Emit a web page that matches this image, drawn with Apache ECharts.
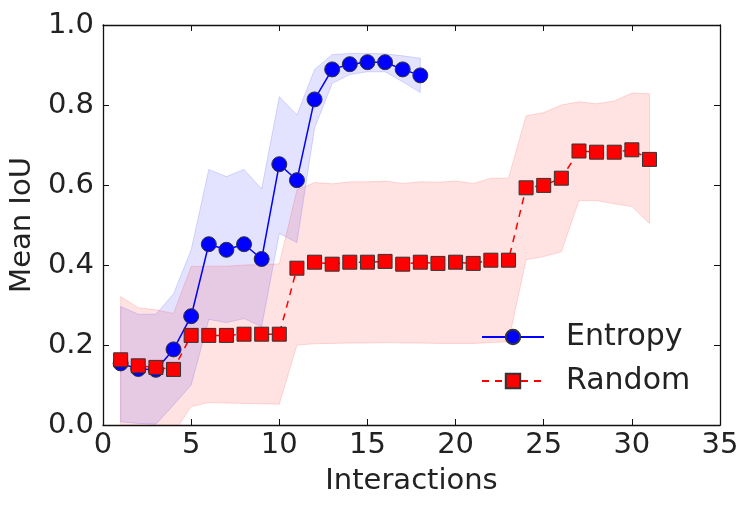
<!DOCTYPE html>
<html><head><meta charset="utf-8">
<script src="https://cdn.jsdelivr.net/npm/echarts@6/dist/echarts.min.js"></script>
<style>html,body{margin:0;padding:0;background:#fff}#c{width:749px;height:505px}</style>
</head><body><div id="c"></div>
<script>
const xEntropy = [1,2,3,4,5,6,7,8,9,10,11,12,13,14,15,16,17,18];
const entropyMean  = [0.154,0.140,0.138,0.189,0.272,0.452,0.438,0.452,0.415,0.652,0.612,0.814,0.889,0.902,0.907,0.907,0.889,0.874];
const entropyUpper = [0.296,0.277,0.277,0.328,0.438,0.639,0.621,0.639,0.590,0.821,0.775,0.889,0.926,0.929,0.929,0.928,0.923,0.917];
const entropyLower = [0.008,0.004,0.002,0.050,0.100,0.264,0.256,0.266,0.246,0.479,0.456,0.742,0.854,0.876,0.883,0.883,0.858,0.831];

const xRandom = [1,2,3,4,5,6,7,8,9,10,11,12,13,14,15,16,17,18,19,20,21,22,23,24,25,26,27,28,29,30,31];
const randomMean  = [0.163,0.148,0.144,0.139,0.224,0.224,0.224,0.227,0.227,0.227,0.392,0.407,0.402,0.407,0.407,0.409,0.402,0.407,0.404,0.407,0.404,0.412,0.412,0.593,0.599,0.617,0.685,0.682,0.682,0.688,0.664];
const randomUpper = [0.321,0.293,0.288,0.279,0.396,0.397,0.397,0.400,0.401,0.403,0.588,0.606,0.603,0.608,0.608,0.610,0.604,0.608,0.607,0.610,0.604,0.617,0.617,0.773,0.781,0.800,0.808,0.803,0.810,0.830,0.828];
const randomLower = [-0.17,-0.12,-0.07,-0.02,0.046,0.056,0.055,0.054,0.053,0.052,0.200,0.203,0.204,0.205,0.205,0.206,0.205,0.205,0.204,0.204,0.204,0.206,0.208,0.413,0.421,0.433,0.561,0.561,0.553,0.546,0.504];

const xTicks = {min: 0, max: 35, interval: 5};
const yTicks = {min: 0, max: 1, interval: 0.2};

const pair = (xs, ys) => xs.map((x, i) => [x, ys[i]]);

const FONT = 'DejaVu Sans';
const TXT = '#222';
const axisLine = {show: true, onZero: false, lineStyle: {color: '#111', width: 1.3}};
const axisTick = {show: true, inside: true, length: 6, lineStyle: {color: '#111', width: 1}};

function bandSeries(name, xs, lo, hi, fill, edge) {
  return {
    name: name, type: 'custom', silent: true, z: 1, clip: true,
    data: [[xs[0], lo[0]]],
    encode: {x: 0, y: 1},
    renderItem: function (params, api) {
      const pts = [];
      for (let i = 0; i < xs.length; i++) pts.push(api.coord([xs[i], hi[i]]));
      for (let i = xs.length - 1; i >= 0; i--) pts.push(api.coord([xs[i], lo[i]]));
      const cs = params.coordSys;
      return {
        type: 'polygon',
        shape: {points: pts},
        style: {fill: fill, stroke: edge, lineWidth: 1},
        clipPath: {type: 'rect', shape: {x: cs.x, y: cs.y, width: cs.width, height: cs.height}}
      };
    }
  };
}

const chart = echarts.init(document.getElementById('c'), null, {renderer: 'canvas'});
chart.setOption({
  animation: false,
  backgroundColor: '#fff',
  grid: {left: 100, right: 29, top: 25, bottom: 80, containLabel: false},
  xAxis: [
    {type: 'value', min: xTicks.min, max: xTicks.max, interval: xTicks.interval, position: 'bottom',
     name: 'Interactions', nameLocation: 'middle', nameGap: 42,
     nameTextStyle: {fontFamily: FONT, fontSize: 29, color: TXT},
     axisLine, axisTick, splitLine: {show: false},
     axisLabel: {fontFamily: FONT, fontSize: 29, color: TXT, margin: 6}},
    {type: 'value', min: xTicks.min, max: xTicks.max, interval: xTicks.interval, position: 'top',
     axisLine, axisTick, splitLine: {show: false}, axisLabel: {show: false}}
  ],
  yAxis: [
    {type: 'value', min: yTicks.min, max: yTicks.max, interval: yTicks.interval, position: 'left',
     name: 'Mean IoU', nameLocation: 'middle', nameGap: 60, nameRotate: 90,
     nameTextStyle: {fontFamily: FONT, fontSize: 29, color: TXT},
     axisLine, axisTick, splitLine: {show: false},
     axisLabel: {fontFamily: FONT, fontSize: 29, color: TXT, margin: 9, formatter: v => v.toFixed(1)}},
    {type: 'value', min: yTicks.min, max: yTicks.max, interval: yTicks.interval, position: 'right',
     axisLine, axisTick, splitLine: {show: false}, axisLabel: {show: false}}
  ],
  legend: {
    orient: 'vertical', left: 476, top: 317, itemWidth: 62, itemHeight: 18, itemGap: 14,
    data: ['Entropy', 'Random'],
    textStyle: {fontFamily: FONT, fontSize: 30, color: TXT, padding: [0, 0, 0, 17]},
    selectedMode: false
  },
  series: [
    bandSeries('E_band', xEntropy, entropyLower, entropyUpper, 'rgba(0,0,255,0.11)', 'rgba(0,0,255,0.14)'),
    bandSeries('R_band', xRandom, randomLower, randomUpper, 'rgba(255,0,0,0.11)', 'rgba(255,0,0,0.14)'),
    {name: 'Entropy', type: 'line', data: pair(xEntropy, entropyMean), z: 3,
     symbol: 'circle', symbolSize: 15,
     lineStyle: {color: '#0000ff', width: 1.5},
     itemStyle: {color: '#0000ff', borderColor: '#333', borderWidth: 1}},
    {name: 'Random', type: 'line', data: pair(xRandom, randomMean), z: 4,
     symbol: 'rect', symbolSize: 14,
     lineStyle: {color: '#ff0000', width: 1.5, type: [7, 6]},
     itemStyle: {color: '#ff0000', borderColor: '#333', borderWidth: 1}}
  ]
});
</script></body></html>
